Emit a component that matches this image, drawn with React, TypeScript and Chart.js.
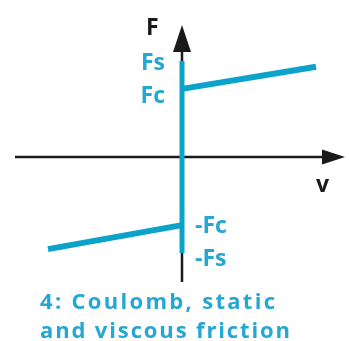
import { useEffect, useRef } from "react";
import { Chart, registerables } from "chart.js";

Chart.register(...registerables);

// Friction model: Coulomb + static + viscous (velocity v, force F)
const staticV = [0, 0];
const staticF = [-1.0, 1.0];
const positiveV = [0, 1];
const positiveF = [0.71, 0.94];
const negativeV = [-1, 0];
const negativeF = [-0.96, -0.71];

const levelNames = ["Fs", "Fc", "-Fc", "-Fs"];
const levelValues = [1.0, 0.71, -0.71, -1.0];

const axisNames = ["F", "v"];
const captionLines = ["4: Coulomb, static", "and viscous friction"];

const LINE = "#0ba3c9";
const TEXT = "#25a7d3";
const AXIS = "#1a1a1a";

const pts = (xs: number[], ys: number[]) => xs.map((x, i) => ({ x, y: ys[i] }));

function fitText(ctx: CanvasRenderingContext2D, text: string, x: number, y: number, width: number) {
  (ctx as any).letterSpacing = "0px";
  const w = ctx.measureText(text).width;
  const spacing = (width - w) / Math.max(1, text.length - 1);
  (ctx as any).letterSpacing = spacing + "px";
  ctx.fillText(text, x, y);
  (ctx as any).letterSpacing = "0px";
}

const axesPlugin = {
  id: "frictionAxes",
  beforeDatasetsDraw(chart: any) {
    const { ctx } = chart;
    const xs = chart.scales.x;
    const ys = chart.scales.y;
    const x0 = xs.getPixelForValue(0);
    const y0 = ys.getPixelForValue(0);
    ctx.save();
    ctx.strokeStyle = AXIS;
    ctx.fillStyle = AXIS;
    ctx.lineWidth = 2.5;
    // horizontal axis
    ctx.beginPath();
    ctx.moveTo(15, y0);
    ctx.lineTo(324, y0);
    ctx.stroke();
    ctx.beginPath();
    ctx.moveTo(322, y0 - 7.5);
    ctx.lineTo(345, y0);
    ctx.lineTo(322, y0 + 7.5);
    ctx.closePath();
    ctx.fill();
    // vertical axis
    ctx.beginPath();
    ctx.moveTo(x0, 282);
    ctx.lineTo(x0, 50);
    ctx.stroke();
    ctx.beginPath();
    ctx.moveTo(x0 - 9, 52);
    ctx.lineTo(x0, 25);
    ctx.lineTo(x0 + 9, 52);
    ctx.closePath();
    ctx.fill();
    ctx.restore();
  },
  afterDraw(chart: any) {
    const { ctx } = chart;
    const xs = chart.scales.x;
    const ys = chart.scales.y;
    const x0 = xs.getPixelForValue(0);
    const y0 = ys.getPixelForValue(0);
    ctx.save();
    ctx.textBaseline = "alphabetic";
    ctx.font = "700 23px 'Open Sans'";
    // axis names
    ctx.fillStyle = AXIS;
    ctx.textAlign = "left";
    ctx.fillText(axisNames[0], x0 - 36, 35);
    ctx.fillText(axisNames[1], 316, y0 + 35);
    // level labels
    ctx.fillStyle = TEXT;
    levelNames.forEach((name, i) => {
      const py = ys.getPixelForValue(levelValues[i]);
      if (levelValues[i] > 0) {
        ctx.textAlign = "right";
        ctx.fillText(name, x0 - 17, py + (i === 0 ? 9 : 14));
      } else {
        ctx.textAlign = "left";
        ctx.fillText(name, x0 + 13, py + (i === 2 ? 8 : 13));
      }
    });
    // caption
    ctx.textAlign = "left";
    ctx.font = "700 22px 'Open Sans'";
    fitText(ctx, captionLines[0], 40, 309, 235);
    fitText(ctx, captionLines[1], 40, 338, 250);
    ctx.restore();
  },
};

export default function App() {
  const ref = useRef<HTMLCanvasElement | null>(null);
  useEffect(() => {
    if (!ref.current) return;
    const lineSet = (data: { x: number; y: number }[], width: number) => ({
      data,
      showLine: true,
      borderColor: LINE,
      backgroundColor: LINE,
      borderWidth: width,
      borderCapStyle: "butt" as const,
      pointRadius: 0,
      tension: 0,
    });
    const chart = new Chart(ref.current, {
      type: "scatter",
      data: {
        datasets: [
          lineSet(pts(staticV, staticF), 5),
          lineSet(pts(positiveV, positiveF), 6),
          lineSet(pts(negativeV, negativeF), 6),
        ],
      },
      options: {
        animation: false,
        responsive: false,
        devicePixelRatio: 1,
        layout: { padding: 0 },
        plugins: { legend: { display: false }, title: { display: false }, tooltip: { enabled: false } },
        scales: {
          x: { type: "linear", display: false, min: -182 / 134, max: 167 / 134 },
          y: { type: "linear", display: false, min: -184 / 96, max: 157 / 96 },
        },
      },
      plugins: [axesPlugin],
    });
    return () => chart.destroy();
  }, []);
  return (
    <div style={{ position: "fixed", left: 0, top: 0, width: 349, height: 341, background: "#fff" }}>
      <canvas ref={ref} width={349} height={341} />
    </div>
  );
}
